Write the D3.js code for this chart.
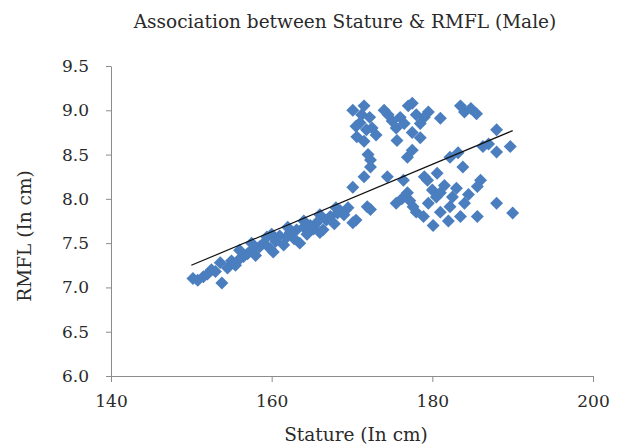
<!DOCTYPE html>
<meta charset="utf-8">
<html lang="en"></html>

<!-- load d3.js -->
<script src="https://d3js.org/d3.v7.min.js"></script>

<div id="chart"></div>

<style>
    body { margin: 0; background: #fff; }
</style>

<script>

    // data: stature (cm) and RMFL (cm) for each male subject
    const stature = [
        150.2, 150.8, 151.5, 152.0, 152.5, 153.0, 153.6, 153.8, 154.5, 155.0,
        155.5, 156.0, 156.5, 157.0, 157.5, 158.0, 158.5, 159.0, 159.4, 159.8,
        160.2, 160.5, 161.0, 161.5, 161.9, 162.3, 162.8, 163.1, 163.5, 164.0,
        164.4, 164.8, 165.2, 165.6, 166.0, 166.4, 166.8, 167.3, 167.8, 168.2,
        168.5, 169.0, 169.5, 170.1, 170.5, 171.9, 172.3,
        156.0, 157.5, 160.0, 162.0, 164.0, 166.0, 168.0,
        170.1, 170.6, 171.0, 171.2, 171.5, 171.8, 172.2, 172.5, 170.5, 171.5,
        172.3, 172.3, 172.0, 173.0, 170.1, 171.5,
        174.0, 174.5, 175.0, 175.5, 176.0, 176.5, 177.0, 177.5, 178.0, 178.5,
        179.0, 179.5, 181.0, 175.6, 178.5, 177.5, 176.9, 177.5, 174.4, 176.4,
        179.4, 180.6, 182.2, 183.2, 183.8, 183.5, 184.0, 184.8, 185.5, 188.0,
        189.7, 188.0, 186.3, 186.0, 185.6, 187.0,
        176.9, 177.6, 178.9, 177.2, 178.0, 179.5, 180.0, 180.5, 181.0, 181.5,
        182.2, 182.5, 183.0, 183.5, 184.0, 184.5, 185.6, 188.0, 190.0, 180.1,
        182.0, 179.0, 181.0, 175.5, 176.2
    ];
    const rmfl = [
        7.10, 7.08, 7.12, 7.15, 7.20, 7.18, 7.28, 7.05, 7.22, 7.30,
        7.25, 7.32, 7.35, 7.38, 7.42, 7.36, 7.46, 7.50, 7.57, 7.44,
        7.40, 7.52, 7.58, 7.48, 7.57, 7.62, 7.55, 7.65, 7.50, 7.68,
        7.60, 7.70, 7.66, 7.73, 7.62, 7.65, 7.76, 7.80, 7.72, 7.84,
        7.87, 7.82, 7.90, 7.73, 7.76, 7.91, 7.88,
        7.42, 7.50, 7.60, 7.68, 7.75, 7.82, 7.90,
        9.00, 8.70, 8.86, 8.95, 9.05, 8.78, 8.92, 8.80, 8.82, 8.65,
        8.44, 8.36, 8.50, 8.72, 8.13, 8.25,
        9.00, 8.95, 8.88, 8.80, 8.92, 8.85, 9.05, 9.08, 8.95, 8.85,
        8.92, 8.98, 8.91, 8.66, 8.69, 8.75, 8.47, 8.55, 8.25, 8.21,
        8.21, 8.29, 8.47, 8.52, 8.36, 9.05, 8.98, 9.02, 8.96, 8.78,
        8.59, 8.53, 8.59, 8.21, 8.14, 8.62,
        8.07, 7.91, 7.80, 7.98, 7.85, 7.95, 8.10, 8.02, 8.07, 8.15,
        7.91, 8.02, 8.12, 7.80, 7.95, 8.05, 7.80, 7.95, 7.84, 7.70,
        7.75, 8.25, 7.85, 7.95, 8.00
    ];

    // linear trendline ends as drawn
    const trendX = [150, 190];
    const trendY = [7.25, 8.77];

    const xTicks = [140, 160, 180, 200];
    const yTicks = [6.0, 6.5, 7.0, 7.5, 8.0, 8.5, 9.0, 9.5];

    const titleText = "Association between Stature & RMFL (Male)";
    const xLabel = "Stature (In cm)";
    const yLabel = "RMFL (In cm)";

    const font = "'DejaVu Serif', 'Liberation Serif', serif";
    const textColor = "#2a2a2a";

    // dimensions
    const W = 617, H = 447;
    const margin = {top: 66, right: 24, bottom: 71, left: 111},
        width = W - margin.left - margin.right,
        height = H - margin.top - margin.bottom;

    const svg = d3.select("#chart")
        .append("svg")
            .attr("width", W)
            .attr("height", H)
        .append("g")
            .attr("transform", "translate(" + margin.left + "," + margin.top + ")");

    const x = d3.scaleLinear().domain([140, 200]).range([0, width]);
    const y = d3.scaleLinear().domain([6, 9.5]).range([height, 0]);

    const axisColor = "#8c8c8c";

    // X axis
    const gx = svg.append("g")
        .attr("transform", "translate(0," + height + ")")
        .call(d3.axisBottom(x).tickValues(xTicks).tickSize(6).tickPadding(13).tickSizeOuter(0));
    gx.selectAll("text")
        .style("font-family", font)
        .style("font-size", "17px")
        .style("fill", textColor);

    // Y axis
    const gy = svg.append("g")
        .call(d3.axisLeft(y).tickValues(yTicks).tickFormat(d3.format(".1f")).tickSize(5).tickPadding(17).tickSizeOuter(0));
    gy.selectAll("text")
        .style("font-family", font)
        .style("font-size", "17px")
        .style("fill", textColor);

    svg.selectAll(".domain, .tick line").attr("stroke", axisColor);

    // points as diamonds
    const pts = stature.map(function(d, i) { return [d, rmfl[i]]; });
    svg.selectAll("path.pt")
        .data(pts)
        .enter()
        .append("path")
            .attr("class", "pt")
            .attr("d", d3.symbol().type(d3.symbolSquare).size(84))
            .attr("transform", function(d) { return "translate(" + x(d[0]) + "," + y(d[1]) + ")rotate(45)"; })
            .attr("fill", "#4a7ebf");

    // trendline
    svg.append("line")
        .attr("x1", x(trendX[0])).attr("y1", y(trendY[0]))
        .attr("x2", x(trendX[1])).attr("y2", y(trendY[1]))
        .attr("stroke", "#111")
        .attr("stroke-width", 1.2);

    // title
    svg.append("text")
        .text(titleText)
        .attr("x", 345 - margin.left)
        .attr("y", 28 - margin.top)
        .attr("text-anchor", "middle")
        .style("font-family", font)
        .style("font-size", "18.5px")
        .style("fill", textColor);

    // axis titles
    svg.append("text")
        .text(xLabel)
        .attr("x", 356 - margin.left)
        .attr("y", 441 - margin.top)
        .attr("text-anchor", "middle")
        .style("font-family", font)
        .style("font-size", "18.5px")
        .style("fill", textColor);

    svg.append("text")
        .text(yLabel)
        .attr("transform", "translate(" + (31 - margin.left) + "," + (236 - margin.top) + ")rotate(-90)")
        .attr("text-anchor", "middle")
        .style("font-family", font)
        .style("font-size", "18.5px")
        .style("fill", textColor);
</script>
